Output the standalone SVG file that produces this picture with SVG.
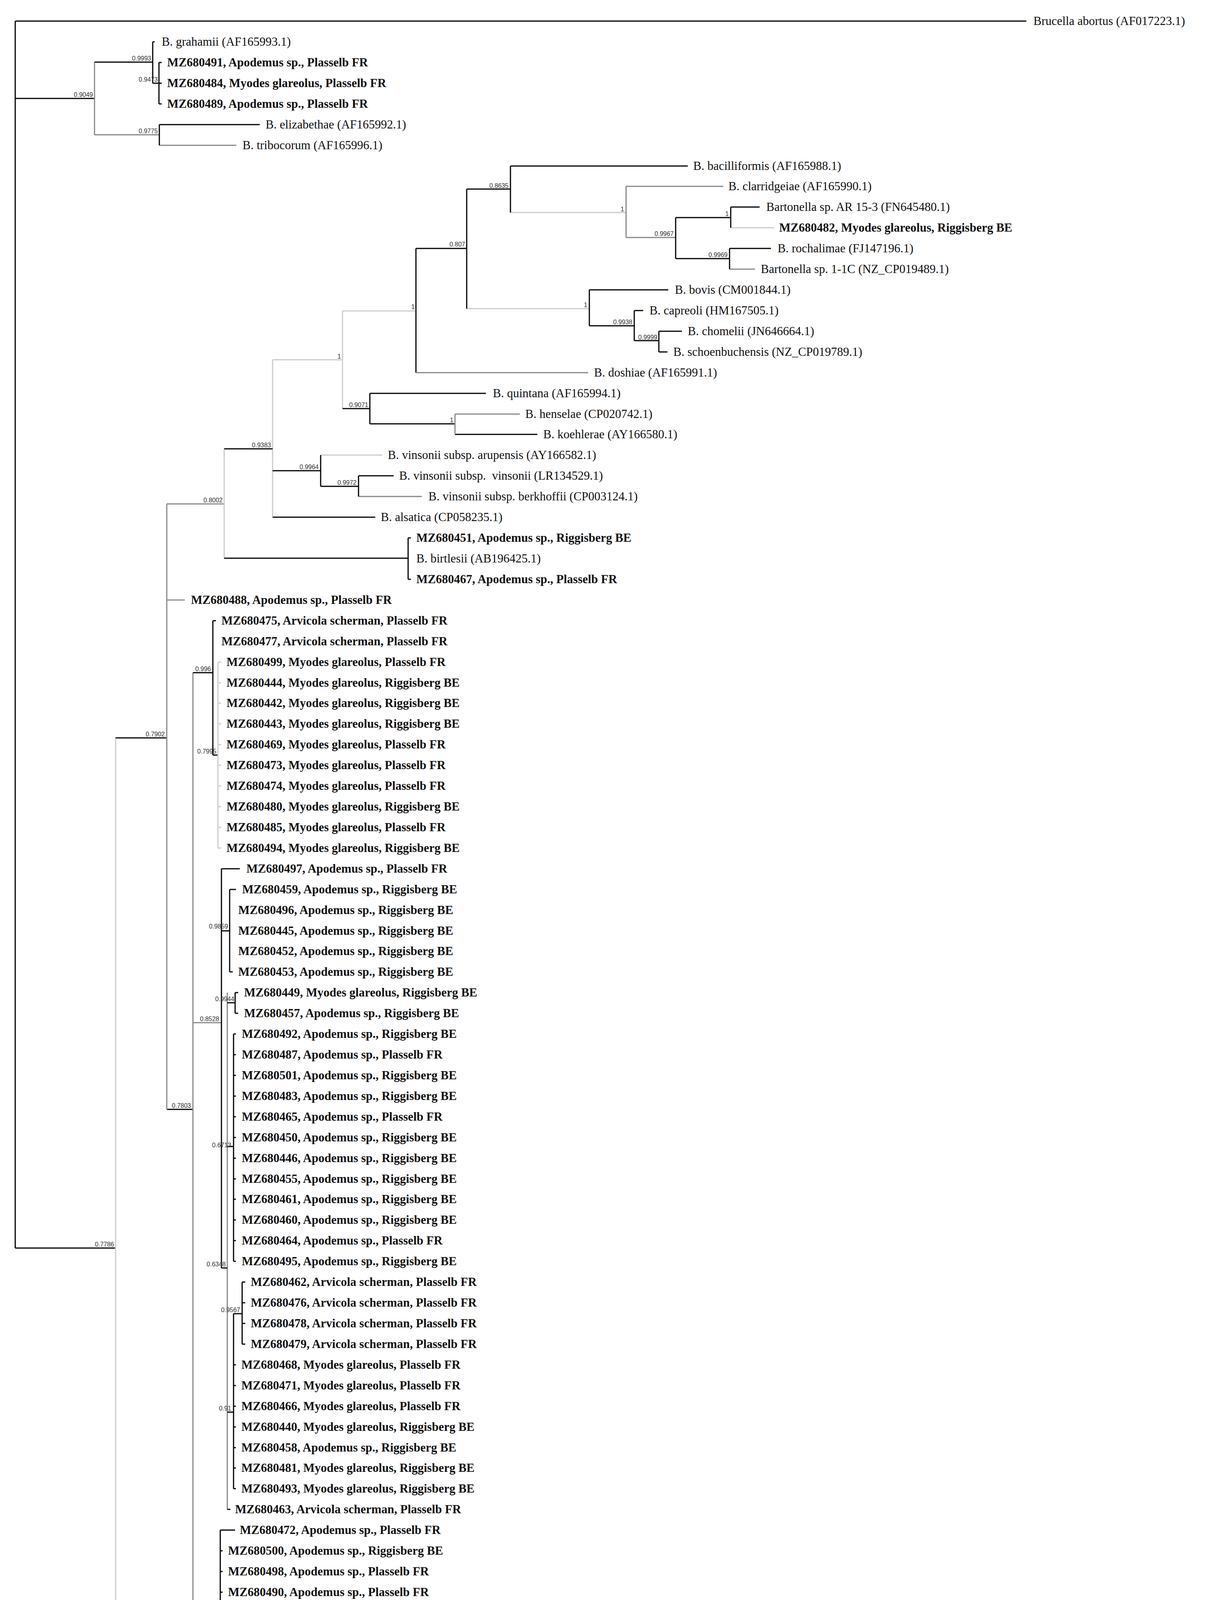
<svg xmlns="http://www.w3.org/2000/svg" width="3111" height="4595" viewBox="0 0 3111 4595">
<style>
.k{stroke:#000;stroke-width:3;fill:none}
.g{stroke:#888;stroke-width:3;fill:none}
.l{stroke:#ccc;stroke-width:3;fill:none}
text{font-family:"Liberation Serif","Times New Roman",serif;font-size:31px;fill:#111;white-space:pre}
.b{font-weight:bold}
.bs{font-family:"Liberation Sans",Arial,sans-serif;font-size:16px;fill:#333;text-anchor:end}
</style>
<rect width="3111" height="4595" fill="#fff"/>
<g id="connectors">
<path class="k" d="M39 54V3195M39 54H2628M39 252H242M39 3195H297"/>
<path class="g" d="M242 159V345M242 345H408M408 372H605"/>
<path class="k" d="M242 159H391M391 107V213M391 107H396M391 213H407M407 160V266M407 160H414M407 213H414M407 266H414M408 319V372M408 319H665"/>
<path class="l" d="M296 1889V4499M296 4499H316"/>
<path class="k" d="M296 1889H427M427 2840H494"/>
<path class="g" d="M427 1290V2840M427 1290H574M427 1536H473"/>
<path class="l" d="M574 1149V1429M698 921V1323M698 921H877M877 796V1046M877 796H1065M1307 544H1603M1195 790H1509M1871 583H1982M821 1165H978"/>
<path class="k" d="M574 1149H698M574 1429H1045M1045 1377V1483M1045 1377H1052M1045 1483H1052"/>
<path class="k" d="M1065 636V954M1065 636H1195M1195 484V790M1195 484H1307M1307 425V544M1307 425H1761"/>
<path class="g" d="M1065 954H1506M1603 477V608M1603 477H1852M1603 608H1730M1868 689H1933"/>
<path class="k" d="M1730 557V662M1730 557H1871M1871 530V583M1871 530H1945M1730 662H1868M1868 636V689M1868 636H1974"/>
<path class="k" d="M1509 742V834M1509 742H1711M1509 834H1624M1624 795V872M1624 795H1647M1624 872H1687M1687 848V901M1687 848H1746M1687 901H1709"/>
<path class="k" d="M877 1046H947M947 1007V1085M947 1007H1244M947 1085H1165M1165 1112H1376"/>
<path class="g" d="M1165 1060V1112M1165 1060H1331M918 1271H1080"/>
<path class="k" d="M698 1205H821M821 1165V1245M821 1245H918M918 1218V1271M918 1218H1008M698 1324H961"/>
<path class="g" d="M494 1722V4181M494 2618H567M494 4181H564M582 2541V3864"/>
<path class="k" d="M494 1722H545M545 1589V1933M545 1589H553M545 1933H558"/>
<path class="l" d="M558 1695V2171M558 1695H566M558 1748H566M558 1800H566M558 1853H566M558 1906H566M558 1959H566M558 2012H566M558 2065H566M558 2118H566M558 2171H566"/>
<path class="k" d="M567 2224V3246M567 2224H614M567 2383H588M588 2277V2488M588 2277H604M588 2488H596M567 3246H582M582 2567H602M602 2541V2594M602 2541H610M602 2594H610"/>
<path class="k" d="M582 2935H598M598 2647V3229M598 2647H604M598 2700H604M598 2753H604M598 2806H604M598 2859H604M598 2912H604M598 2965H604M598 3018H604M598 3070H604M598 3123H604M598 3176H604M598 3229H604"/>
<path class="k" d="M582 3615H598M598 3363V3811M598 3363H620M620 3282V3441M620 3282H628M620 3335H628M620 3388H628M620 3441H628M598 3494H604M598 3547H604M598 3600H604M598 3653H604M598 3706H604M598 3758H604M598 3811H604M582 3864H590"/>
<path class="k" d="M564 3917V4446M564 3917H602M564 3970H570M564 4023H570M564 4076H570M564 4129H570M564 4182H570M564 4235H570M564 4288H570M564 4340H570M564 4393H570M564 4446H570"/>
<path class="k" d="M1158 4529H1508"/>
</g>
<g id="support">
<text class="bs" x="238" y="248">0.9049</text>
<text class="bs" x="387" y="155">0.9993</text>
<text class="bs" x="404" y="209">0.9473</text>
<text class="bs" x="404" y="341">0.9775</text>
<text class="bs" x="1302" y="481">0.8635</text>
<text class="bs" x="1191" y="631">0.807</text>
<text class="bs" x="1062" y="791">1</text>
<text class="bs" x="873" y="918">1</text>
<text class="bs" x="1598" y="541">1</text>
<text class="bs" x="1725" y="604">0.9967</text>
<text class="bs" x="1866" y="553">1</text>
<text class="bs" x="1863" y="658">0.9969</text>
<text class="bs" x="1504" y="786">1</text>
<text class="bs" x="1619" y="830">0.9938</text>
<text class="bs" x="1683" y="869">0.9999</text>
<text class="bs" x="943" y="1042">0.9071</text>
<text class="bs" x="1161" y="1081">1</text>
<text class="bs" x="694" y="1145">0.9383</text>
<text class="bs" x="816" y="1201">0.9964</text>
<text class="bs" x="913" y="1241">0.9972</text>
<text class="bs" x="570" y="1286">0.8002</text>
<text class="bs" x="422" y="1885">0.7902</text>
<text class="bs" x="540" y="1718">0.996</text>
<text class="bs" x="554" y="1929">0.7995</text>
<text class="bs" x="584" y="2377">0.9859</text>
<text class="bs" x="600" y="2563">0.9944</text>
<text class="bs" x="561" y="2614">0.8528</text>
<text class="bs" x="489" y="2836">0.7803</text>
<text class="bs" x="592" y="2937">0.6713</text>
<text class="bs" x="292" y="3191">0.7786</text>
<text class="bs" x="578" y="3242">0.6348</text>
<text class="bs" x="615" y="3359">0.9567</text>
<text class="bs" x="592" y="3611">0.91</text>
<text class="bs" x="559" y="4177">1</text>
<text class="bs" x="1342" y="4555">0.05</text>
</g>
<g id="leaves">
<g id="n0"><text x="2646" y="64">Brucella abortus (AF017223.1)</text></g>
<g id="n1"><text x="414" y="117">B. grahamii (AF165993.1)</text></g>
<g id="n2"><text class="b" x="428" y="170">MZ680491, Apodemus sp., Plasselb FR</text></g>
<g id="n3"><text class="b" x="428" y="223">MZ680484, Myodes glareolus, Plasselb FR</text></g>
<g id="n4"><text class="b" x="428" y="276">MZ680489, Apodemus sp., Plasselb FR</text></g>
<g id="n5"><text x="680" y="329">B. elizabethae (AF165992.1)</text></g>
<g id="n6"><text x="621" y="382">B. tribocorum (AF165996.1)</text></g>
<g id="n7"><text x="1775" y="435">B. bacilliformis (AF165988.1)</text></g>
<g id="n8"><text x="1865" y="487">B. clarridgeiae (AF165990.1)</text></g>
<g id="n9"><text x="1962" y="540">Bartonella sp. AR 15-3 (FN645480.1)</text></g>
<g id="n10"><text class="b" x="1995" y="593">MZ680482, Myodes glareolus, Riggisberg BE</text></g>
<g id="n11"><text x="1991" y="646">B. rochalimae (FJ147196.1)</text></g>
<g id="n12"><text x="1948" y="699">Bartonella sp. 1-1C (NZ_CP019489.1)</text></g>
<g id="n13"><text x="1728" y="752">B. bovis (CM001844.1)</text></g>
<g id="n14"><text x="1663" y="805">B. capreoli (HM167505.1)</text></g>
<g id="n15"><text x="1761" y="858">B. chomelii (JN646664.1)</text></g>
<g id="n16"><text x="1724" y="911">B. schoenbuchensis (NZ_CP019789.1)</text></g>
<g id="n17"><text x="1521" y="964">B. doshiae (AF165991.1)</text></g>
<g id="n18"><text x="1262" y="1017">B. quintana (AF165994.1)</text></g>
<g id="n19"><text x="1345" y="1070">B. henselae (CP020742.1)</text></g>
<g id="n20"><text x="1391" y="1122">B. koehlerae (AY166580.1)</text></g>
<g id="n21"><text x="993" y="1175">B. vinsonii subsp. arupensis (AY166582.1)</text></g>
<g id="n22"><text x="1022" y="1228">B. vinsonii subsp.  vinsonii (LR134529.1)</text></g>
<g id="n23"><text x="1097" y="1281">B. vinsonii subsp. berkhoffii (CP003124.1)</text></g>
<g id="n24"><text x="975" y="1334">B. alsatica (CP058235.1)</text></g>
<g id="n25"><text class="b" x="1066" y="1387">MZ680451, Apodemus sp., Riggisberg BE</text></g>
<g id="n26"><text x="1066" y="1440">B. birtlesii (AB196425.1)</text></g>
<g id="n27"><text class="b" x="1066" y="1493">MZ680467, Apodemus sp., Plasselb FR</text></g>
<g id="n28"><text class="b" x="489" y="1546">MZ680488, Apodemus sp., Plasselb FR</text></g>
<g id="n29"><text class="b" x="567" y="1599">MZ680475, Arvicola scherman, Plasselb FR</text></g>
<g id="n30"><text class="b" x="567" y="1652">MZ680477, Arvicola scherman, Plasselb FR</text></g>
<g id="n31"><text class="b" x="580" y="1705">MZ680499, Myodes glareolus, Plasselb FR</text></g>
<g id="n32"><text class="b" x="580" y="1758">MZ680444, Myodes glareolus, Riggisberg BE</text></g>
<g id="n33"><text class="b" x="580" y="1810">MZ680442, Myodes glareolus, Riggisberg BE</text></g>
<g id="n34"><text class="b" x="580" y="1863">MZ680443, Myodes glareolus, Riggisberg BE</text></g>
<g id="n35"><text class="b" x="580" y="1916">MZ680469, Myodes glareolus, Plasselb FR</text></g>
<g id="n36"><text class="b" x="580" y="1969">MZ680473, Myodes glareolus, Plasselb FR</text></g>
<g id="n37"><text class="b" x="580" y="2022">MZ680474, Myodes glareolus, Plasselb FR</text></g>
<g id="n38"><text class="b" x="580" y="2075">MZ680480, Myodes glareolus, Riggisberg BE</text></g>
<g id="n39"><text class="b" x="580" y="2128">MZ680485, Myodes glareolus, Plasselb FR</text></g>
<g id="n40"><text class="b" x="580" y="2181">MZ680494, Myodes glareolus, Riggisberg BE</text></g>
<g id="n41"><text class="b" x="631" y="2234">MZ680497, Apodemus sp., Plasselb FR</text></g>
<g id="n42"><text class="b" x="620" y="2287">MZ680459, Apodemus sp., Riggisberg BE</text></g>
<g id="n43"><text class="b" x="610" y="2340">MZ680496, Apodemus sp., Riggisberg BE</text></g>
<g id="n44"><text class="b" x="610" y="2393">MZ680445, Apodemus sp., Riggisberg BE</text></g>
<g id="n45"><text class="b" x="610" y="2445">MZ680452, Apodemus sp., Riggisberg BE</text></g>
<g id="n46"><text class="b" x="610" y="2498">MZ680453, Apodemus sp., Riggisberg BE</text></g>
<g id="n47"><text class="b" x="625" y="2551">MZ680449, Myodes glareolus, Riggisberg BE</text></g>
<g id="n48"><text class="b" x="625" y="2604">MZ680457, Apodemus sp., Riggisberg BE</text></g>
<g id="n49"><text class="b" x="619" y="2657">MZ680492, Apodemus sp., Riggisberg BE</text></g>
<g id="n50"><text class="b" x="619" y="2710">MZ680487, Apodemus sp., Plasselb FR</text></g>
<g id="n51"><text class="b" x="619" y="2763">MZ680501, Apodemus sp., Riggisberg BE</text></g>
<g id="n52"><text class="b" x="619" y="2816">MZ680483, Apodemus sp., Riggisberg BE</text></g>
<g id="n53"><text class="b" x="619" y="2869">MZ680465, Apodemus sp., Plasselb FR</text></g>
<g id="n54"><text class="b" x="619" y="2922">MZ680450, Apodemus sp., Riggisberg BE</text></g>
<g id="n55"><text class="b" x="619" y="2975">MZ680446, Apodemus sp., Riggisberg BE</text></g>
<g id="n56"><text class="b" x="619" y="3028">MZ680455, Apodemus sp., Riggisberg BE</text></g>
<g id="n57"><text class="b" x="619" y="3080">MZ680461, Apodemus sp., Riggisberg BE</text></g>
<g id="n58"><text class="b" x="619" y="3133">MZ680460, Apodemus sp., Riggisberg BE</text></g>
<g id="n59"><text class="b" x="619" y="3186">MZ680464, Apodemus sp., Plasselb FR</text></g>
<g id="n60"><text class="b" x="619" y="3239">MZ680495, Apodemus sp., Riggisberg BE</text></g>
<g id="n61"><text class="b" x="642" y="3292">MZ680462, Arvicola scherman, Plasselb FR</text></g>
<g id="n62"><text class="b" x="642" y="3345">MZ680476, Arvicola scherman, Plasselb FR</text></g>
<g id="n63"><text class="b" x="642" y="3398">MZ680478, Arvicola scherman, Plasselb FR</text></g>
<g id="n64"><text class="b" x="642" y="3451">MZ680479, Arvicola scherman, Plasselb FR</text></g>
<g id="n65"><text class="b" x="618" y="3504">MZ680468, Myodes glareolus, Plasselb FR</text></g>
<g id="n66"><text class="b" x="618" y="3557">MZ680471, Myodes glareolus, Plasselb FR</text></g>
<g id="n67"><text class="b" x="618" y="3610">MZ680466, Myodes glareolus, Plasselb FR</text></g>
<g id="n68"><text class="b" x="618" y="3663">MZ680440, Myodes glareolus, Riggisberg BE</text></g>
<g id="n69"><text class="b" x="618" y="3716">MZ680458, Apodemus sp., Riggisberg BE</text></g>
<g id="n70"><text class="b" x="618" y="3768">MZ680481, Myodes glareolus, Riggisberg BE</text></g>
<g id="n71"><text class="b" x="618" y="3821">MZ680493, Myodes glareolus, Riggisberg BE</text></g>
<g id="n72"><text class="b" x="602" y="3874">MZ680463, Arvicola scherman, Plasselb FR</text></g>
<g id="n73"><text class="b" x="614" y="3927">MZ680472, Apodemus sp., Plasselb FR</text></g>
<g id="n74"><text class="b" x="584" y="3980">MZ680500, Apodemus sp., Riggisberg BE</text></g>
<g id="n75"><text class="b" x="584" y="4033">MZ680498, Apodemus sp., Plasselb FR</text></g>
<g id="n76"><text class="b" x="584" y="4086">MZ680490, Apodemus sp., Plasselb FR</text></g>
<g id="n77"><text class="b" x="584" y="4139">MZ680456, Apodemus sp., Riggisberg BE</text></g>
<g id="n78"><text class="b" x="584" y="4192">MZ680454, Apodemus sp., Riggisberg BE</text></g>
<g id="n79"><text class="b" x="584" y="4245">MZ680447, Apodemus sp., Riggisberg BE</text></g>
<g id="n80"><text class="b" x="584" y="4298">MZ680470, Apodemus sp., Plasselb FR</text></g>
<g id="n81"><text class="b" x="584" y="4350">MZ680441, Apodemus sp., Riggisberg BE</text></g>
<g id="n82"><text x="584" y="4403">B. taylorii (AF165995.1)</text></g>
<g id="n83"><text class="b" x="584" y="4456">MZ680448, Apodemus sp., Riggisberg BE</text></g>
<g id="n84"><text class="b" x="332" y="4509">MZ680486, Apodemus sp., Plasselb FR</text></g>
</g>
</svg>
